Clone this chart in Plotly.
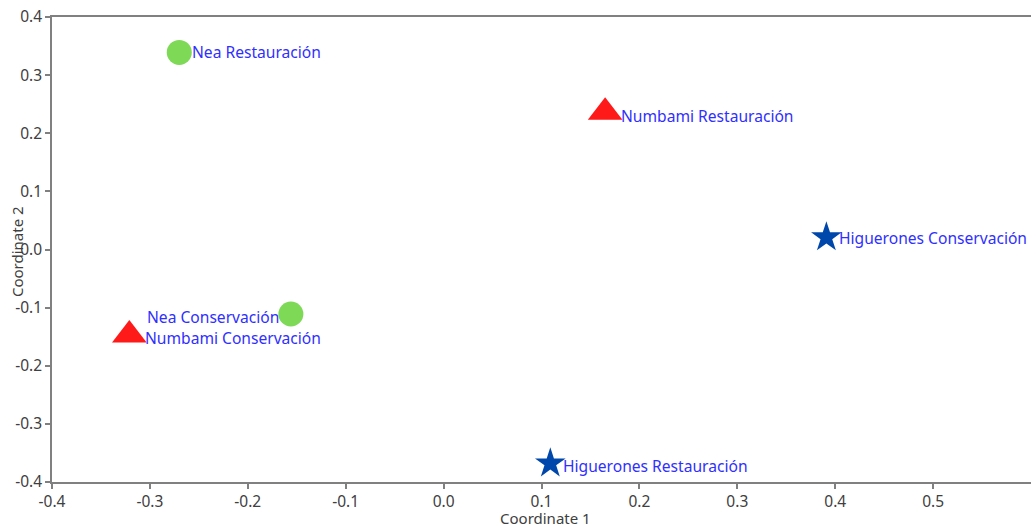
import plotly.graph_objects as go

# Ordination coordinates per site / treatment
names = ["Nea Restauración", "Numbami Restauración", "Higuerones Conservación",
         "Nea Conservación", "Numbami Conservación", "Higuerones Restauración"]
coord1 = [-0.270, 0.165, 0.391, -0.156, -0.321, 0.109]
coord2 = [0.339, 0.236, 0.021, -0.111, -0.147, -0.368]
sites = ["Nea", "Numbami", "Higuerones", "Nea", "Numbami", "Higuerones"]

site_style = {
    "Nea": dict(symbol="circle", color="#7ED957", size=25),
    "Numbami": dict(symbol="triangle-up", color="#FF1A1A", size=30),
    "Higuerones": dict(symbol="star", color="#0047AB", size=23),
}

# label placement relative to each marker (pixels)
label_anchor = ["left", "left", "left", "right", "left", "left"]
label_dx = [11, 14, 11, -10, 14, 11]
label_dy = [0, -4, -1, -3, -3, -3]

fig = go.Figure()
for site in ["Nea", "Numbami", "Higuerones"]:
    idx = [i for i, s in enumerate(sites) if s == site]
    st = site_style[site]
    fig.add_trace(go.Scatter(
        x=[coord1[i] for i in idx], y=[coord2[i] for i in idx],
        mode="markers", name=site,
        marker=dict(symbol=st["symbol"], color=st["color"], size=st["size"],
                    line=dict(width=0)),
        showlegend=False, hoverinfo="skip",
    ))

font_family = "Noto Sans, Open Sans, sans-serif"
for i, n in enumerate(names):
    fig.add_annotation(x=coord1[i], y=coord2[i], text=n, showarrow=False,
                       xanchor=label_anchor[i], yanchor="middle",
                       xshift=label_dx[i], yshift=label_dy[i],
                       font=dict(family=font_family, size=15.6, color="#2F2FFF"))

fig.add_annotation(x=0.504, y=-0.077, xref="paper", yref="paper",
                   text="Coordinate 1", showarrow=False, yanchor="middle",
                   borderpad=0,
                   font=dict(family=font_family, size=15, color="#404040"))
fig.add_annotation(x=-0.035, y=0.496, xref="paper", yref="paper",
                   text="Coordinate 2", showarrow=False, textangle=-90,
                   xanchor="center", yanchor="middle",
                   font=dict(family=font_family, size=15, color="#404040"))

axis_common = dict(showgrid=False, zeroline=False, showline=True,
                   linecolor="#808080", linewidth=1.5, ticks="outside",
                   ticklen=5, tickcolor="#808080", tickwidth=1.5,
                   tickfont=dict(family=font_family, size=15.5, color="#404040"))

xticks = [-0.4, -0.3, -0.2, -0.1, 0.0, 0.1, 0.2, 0.3, 0.4, 0.5]
yticks = [-0.4, -0.3, -0.2, -0.1, 0.0, 0.1, 0.2, 0.3, 0.4]

fig.update_xaxes(range=[-0.4, 0.6], mirror=True,
                 tickvals=xticks, ticktext=[f"{v:.1f}" for v in xticks],
                 **axis_common)
fig.update_yaxes(range=[-0.4, 0.4],
                 tickvals=yticks, ticktext=[f"{v:.1f}" for v in yticks],
                 **axis_common)

fig.update_layout(width=1031, height=527,
                  margin=dict(l=52, r=0, t=17, b=45),
                  paper_bgcolor="white", plot_bgcolor="white")

fig.write_html("out.html")
